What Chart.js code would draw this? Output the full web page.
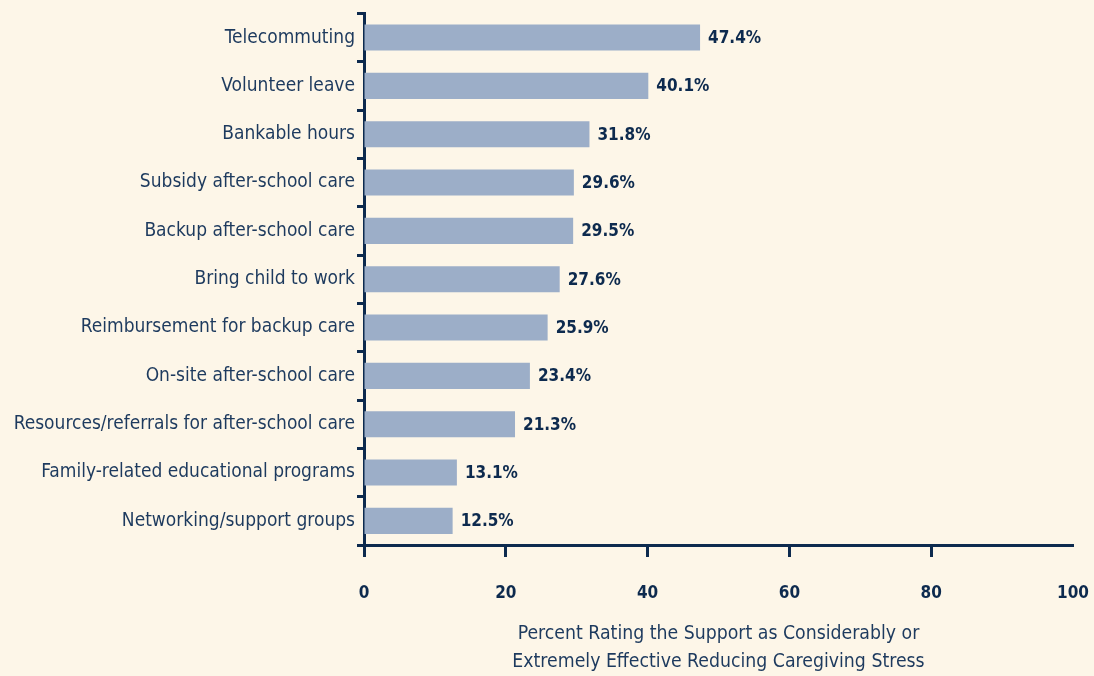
<!DOCTYPE html>
<html>
<head>
<meta charset="utf-8">
<script src="https://cdn.jsdelivr.net/npm/chart.js@4"></script>
<style>
  html, body { margin: 0; padding: 0; background: #fdf6e8; }
  #wrap { width: 1094px; height: 676px; }
</style>
</head>
<body>
<div id="wrap"><canvas id="chart" width="1094" height="676"></canvas></div>
<script>
const categories = [
  'Telecommuting',
  'Volunteer leave',
  'Bankable hours',
  'Subsidy after-school care',
  'Backup after-school care',
  'Bring child to work',
  'Reimbursement for backup care',
  'On-site after-school care',
  'Resources/referrals for after-school care',
  'Family-related educational programs',
  'Networking/support groups',
];
const percents = [47.4, 40.1, 31.8, 29.6, 29.5, 27.6, 25.9, 23.4, 21.3, 13.1, 12.5];
const xTicks = [0, 20, 40, 60, 80, 100];
const axisTitle = ['Percent Rating the Support as Considerably or', 'Extremely Effective Reducing Caregiving Stress'];

const NAVY = '#0d2a4e';
const TEXT = '#1d3a5e';
const FONT = '"Liberation Sans Narrow", "DejaVu Sans Condensed", "Open Sans", sans-serif';

// value labels at the end of each bar
const valueLabels = {
  id: 'valueLabels',
  afterDatasetsDraw(chart) {
    const ctx = chart.ctx;
    const meta = chart.getDatasetMeta(0);
    ctx.save();
    ctx.font = 'bold 17px ' + FONT;
    ctx.fillStyle = NAVY;
    ctx.textBaseline = 'middle';
    ctx.textAlign = 'left';
    meta.data.forEach((bar, i) => {
      ctx.fillText(percents[i].toFixed(1) + '%', bar.x + 8, bar.y + 1);
    });
    ctx.restore();
  },
};

new Chart(document.getElementById('chart'), {
  type: 'bar',
  data: {
    labels: categories,
    datasets: [{
      data: percents,
      backgroundColor: '#9caec8',
      barPercentage: 0.54,
      categoryPercentage: 1,
    }],
  },
  options: {
    indexAxis: 'y',
    responsive: false,
    animation: false,
    layout: { padding: { top: 10, right: 21, left: 0, bottom: 0 } },
    plugins: { legend: { display: false }, tooltip: { enabled: false } },
    scales: {
      x: {
        min: 0,
        max: 100,
        afterBuildTicks: (scale) => { scale.ticks = xTicks.map((v) => ({ value: v })); },
        afterFit: (scale) => {
          scale.height = 131;
          scale.paddingLeft = 0;
          scale.paddingRight = 0;
        },
        border: { color: NAVY, width: 3 },
        grid: {
          drawOnChartArea: false,
          tickLength: 12,
          tickWidth: 3,
          tickColor: (c) => (c.tick && c.tick.value === 100 ? 'rgba(0,0,0,0)' : NAVY),
        },
        ticks: {
          color: NAVY,
          font: { family: FONT, size: 17, weight: 'bold' },
          padding: 26,
          maxRotation: 0,
        },
        title: {
          display: true,
          text: axisTitle,
          color: TEXT,
          font: { family: FONT, size: 19.3, lineHeight: 1.45 },
          padding: { top: 15, bottom: 0 },
        },
      },
      y: {
        afterFit: (scale) => { scale.width = 364; },
        border: { color: NAVY, width: 3 },
        grid: {
          drawOnChartArea: false,
          offset: true,
          tickLength: 7,
          tickWidth: 3,
          tickColor: NAVY,
        },
        ticks: {
          color: TEXT,
          font: { family: FONT, size: 19 },
          padding: 2,
        },
      },
    },
  },
  plugins: [valueLabels],
});
</script>
</body>
</html>
